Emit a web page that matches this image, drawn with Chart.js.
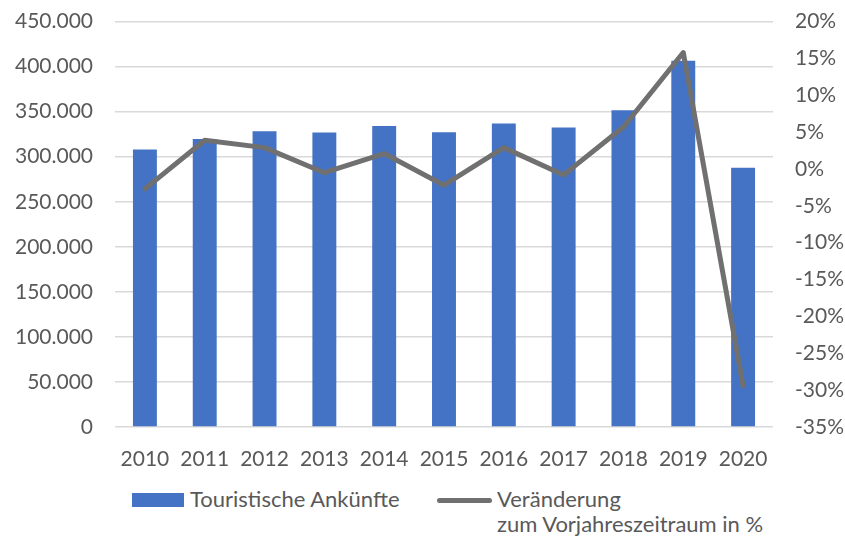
<!DOCTYPE html>
<html>
<head>
<meta charset="utf-8">
<script src="https://cdn.jsdelivr.net/npm/chart.js@4"></script>
<style>
  html, body { margin: 0; padding: 0; background: #fff; }
  #wrap { position: relative; width: 845px; height: 539px; overflow: hidden; font-family: Lato, sans-serif; color: #595959; }
  #c { position: absolute; left: 0; top: -13px; }
  .leg { position: absolute; font-size: 22px; line-height: 25px; white-space: nowrap; }
  .box { position: absolute; left: 132px; top: 493px; width: 52px; height: 14px; background: #4472C4; }
  .ln { position: absolute; left: 437px; top: 498px; width: 55px; height: 5px; border-radius: 3px; background: #707070; }
</style>
</head>
<body>
<div id="wrap">
  <canvas id="c" width="845" height="493"></canvas>
  <div class="box"></div>
  <div class="leg" style="left:190px; top:486px">Touristische Ankünfte</div>
  <div class="ln"></div>
  <div class="leg" style="left:497px; top:486px">Veränderung</div>
  <div class="leg" style="left:497px; top:511px">zum Vorjahreszeitraum in %</div>
</div>
<script>
const years = ['2010', '2011', '2012', '2013', '2014', '2015', '2016', '2017', '2018', '2019', '2020']

// Touristische Ankünfte
const arrivals = [308000, 319800, 328300, 327000, 334000, 327200, 336800, 332400, 351500, 406500, 287700]

// Veränderung zum Vorjahreszeitraum (Anteil)
const change = [-0.027, 0.039, 0.029, -0.005, 0.021, -0.022, 0.029, -0.008, 0.057, 0.158, -0.294]

const textColor = '#595959'
const tickFont = {family: 'Lato', size: 21}

const fmtThousands = (v) => String(v).replace(/\B(?=(\d{3})+(?!\d))/g, '.')

new Chart(document.getElementById('c'), {
  data: {
    labels: years,
    datasets: [
      {
        type: 'line',
        label: 'Veränderung zum Vorjahreszeitraum in %',
        data: change,
        yAxisID: 'yr',
        borderColor: '#707070',
        borderWidth: 5,
        borderCapStyle: 'round',
        borderJoinStyle: 'round',
        pointRadius: 0,
        tension: 0,
        order: 0,
      },
      {
        type: 'bar',
        label: 'Touristische Ankünfte',
        data: arrivals,
        yAxisID: 'y',
        backgroundColor: '#4472C4',
        barPercentage: 0.8,
        categoryPercentage: 0.5,
        order: 1,
      },
    ],
  },
  options: {
    responsive: false,
    animation: false,
    layout: {padding: {top: 8, left: 0, right: 0, bottom: 0}},
    plugins: {
      legend: {display: false},
      tooltip: {enabled: false},
    },
    scales: {
      x: {
        grid: {display: false, drawTicks: false},
        border: {display: false},
        ticks: {color: textColor, font: tickFont, padding: 20, maxRotation: 0},
        afterFit: (s) => { s.height = 53 },
      },
      y: {
        position: 'left',
        min: 0,
        max: 450000,
        grid: {color: '#d9d9d9', lineWidth: 1.5, drawTicks: false},
        border: {display: false},
        ticks: {
          stepSize: 50000,
          color: textColor,
          font: tickFont,
          padding: 22,
          callback: (v) => fmtThousands(v),
        },
        afterFit: (s) => { s.width = 115 },
      },
      yr: {
        position: 'right',
        min: -0.35,
        max: 0.2,
        grid: {display: false, drawTicks: false},
        border: {display: false},
        ticks: {
          stepSize: 0.05,
          color: textColor,
          font: tickFont,
          padding: 22,
          callback: (v) => Math.round(v * 100) + '%',
        },
        afterFit: (s) => { s.width = 72 },
      },
    },
  },
})
</script>
</body>
</html>
